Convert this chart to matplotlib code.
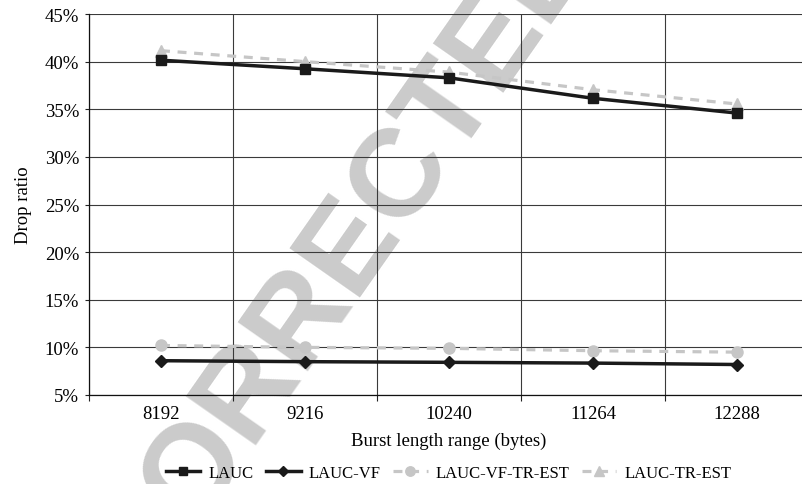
import matplotlib
matplotlib.use("Agg")
import matplotlib.pyplot as plt
import numpy as np

categories = ["8192", "9216", "10240", "11264", "12288"]
lauc = [40.15, 39.25, 38.3, 36.15, 34.6]
lauc_vf = [8.6, 8.5, 8.43, 8.35, 8.2]
lauc_vf_tr_est = [10.2, 10.0, 9.9, 9.65, 9.5]
lauc_tr_est = [41.15, 40.0, 38.9, 37.05, 35.55]
yticks = [5, 10, 15, 20, 25, 30, 35, 40, 45]

plt.rcParams['font.family'] = ['Liberation Serif', 'DejaVu Serif']

W, H = 803, 485
fig = plt.figure(figsize=(W / 100, H / 100), dpi=100)

# watermark (behind everything)
fig.text(431 / W, 1 - 140 / H, "UNCORRECTED PROOF", fontsize=90, fontweight='bold',
         family='Liberation Sans', color='#cbcbcb', rotation=55,
         rotation_mode='anchor', ha='center', va='center', zorder=0)

ax = fig.add_axes([89 / W, 1 - 396 / H, 720 / W, 381 / H])
ax.set_zorder(1)
ax.patch.set_visible(False)

x = np.arange(len(categories))
gray = '#c6c6c6'
dash = (0, (2.8, 2.4))
ax.plot(x, lauc_vf_tr_est, color=gray, lw=2.3, linestyle=dash, marker='o', ms=8,
        mec=gray, mfc=gray, label='LAUC-VF-TR-EST', zorder=3, dash_capstyle='butt')
ax.plot(x, lauc_tr_est, color=gray, lw=2.3, linestyle=dash, marker='^', ms=8.5,
        mec=gray, mfc=gray, label='LAUC-TR-EST', zorder=3, dash_capstyle='butt')
ax.plot(x, lauc, color='#1a1a1a', lw=2.5, marker='s', ms=7, mec='#1a1a1a',
        mfc='#1a1a1a', label='LAUC', zorder=4)
ax.plot(x, lauc_vf, color='#1a1a1a', lw=2.5, marker='D', ms=6, mec='#1a1a1a',
        mfc='#1a1a1a', label='LAUC-VF', zorder=4)

ax.set_xlim(-0.5, len(categories) - 0.5)
ax.set_ylim(5, 45)
ax.set_yticks(yticks)
ax.set_yticklabels([f"{v}%" for v in yticks], fontsize=13.5)

ax.set_xticks(np.arange(len(categories) + 1) - 0.5)
ax.set_xticklabels([])
ax.set_xticks(x, minor=True)
ax.set_xticklabels(categories, minor=True, fontsize=13.5)
ax.tick_params(axis='x', which='major', length=4, width=0.8, color='#222222', direction='out')
ax.tick_params(axis='x', which='minor', length=0, pad=7)
ax.tick_params(axis='y', length=3, width=0.8, color='#222222', pad=4)

gc = '#3a3a3a'
ax.grid(True, which='major', axis='both', color=gc, lw=0.8, zorder=1)
ax.set_axisbelow(True)
for s in ['top', 'right']:
    ax.spines[s].set_visible(False)
ax.spines['left'].set_color('#111111')
ax.spines['bottom'].set_color('#111111')
ax.spines['left'].set_linewidth(0.9)
ax.spines['bottom'].set_linewidth(0.9)

ax.set_ylabel("Drop ratio", fontsize=13.5)
ax.yaxis.set_label_coords((32 - 89) / 720, 0.5)
ax.set_xlabel("Burst length range (bytes)", fontsize=13.5)
ax.xaxis.set_label_coords(0.5, -0.095)

handles, labels = ax.get_legend_handles_labels()
order = [2, 3, 0, 1]
leg = fig.legend([handles[i] for i in order], [labels[i] for i in order],
                 loc='center', bbox_to_anchor=(449 / W, 1 - 474 / H), ncol=4,
                 frameon=False, fontsize=12, handlelength=2.05, handletextpad=0.5,
                 columnspacing=0.75, markerscale=0.85)

fig.savefig("out.png", dpi=100)
